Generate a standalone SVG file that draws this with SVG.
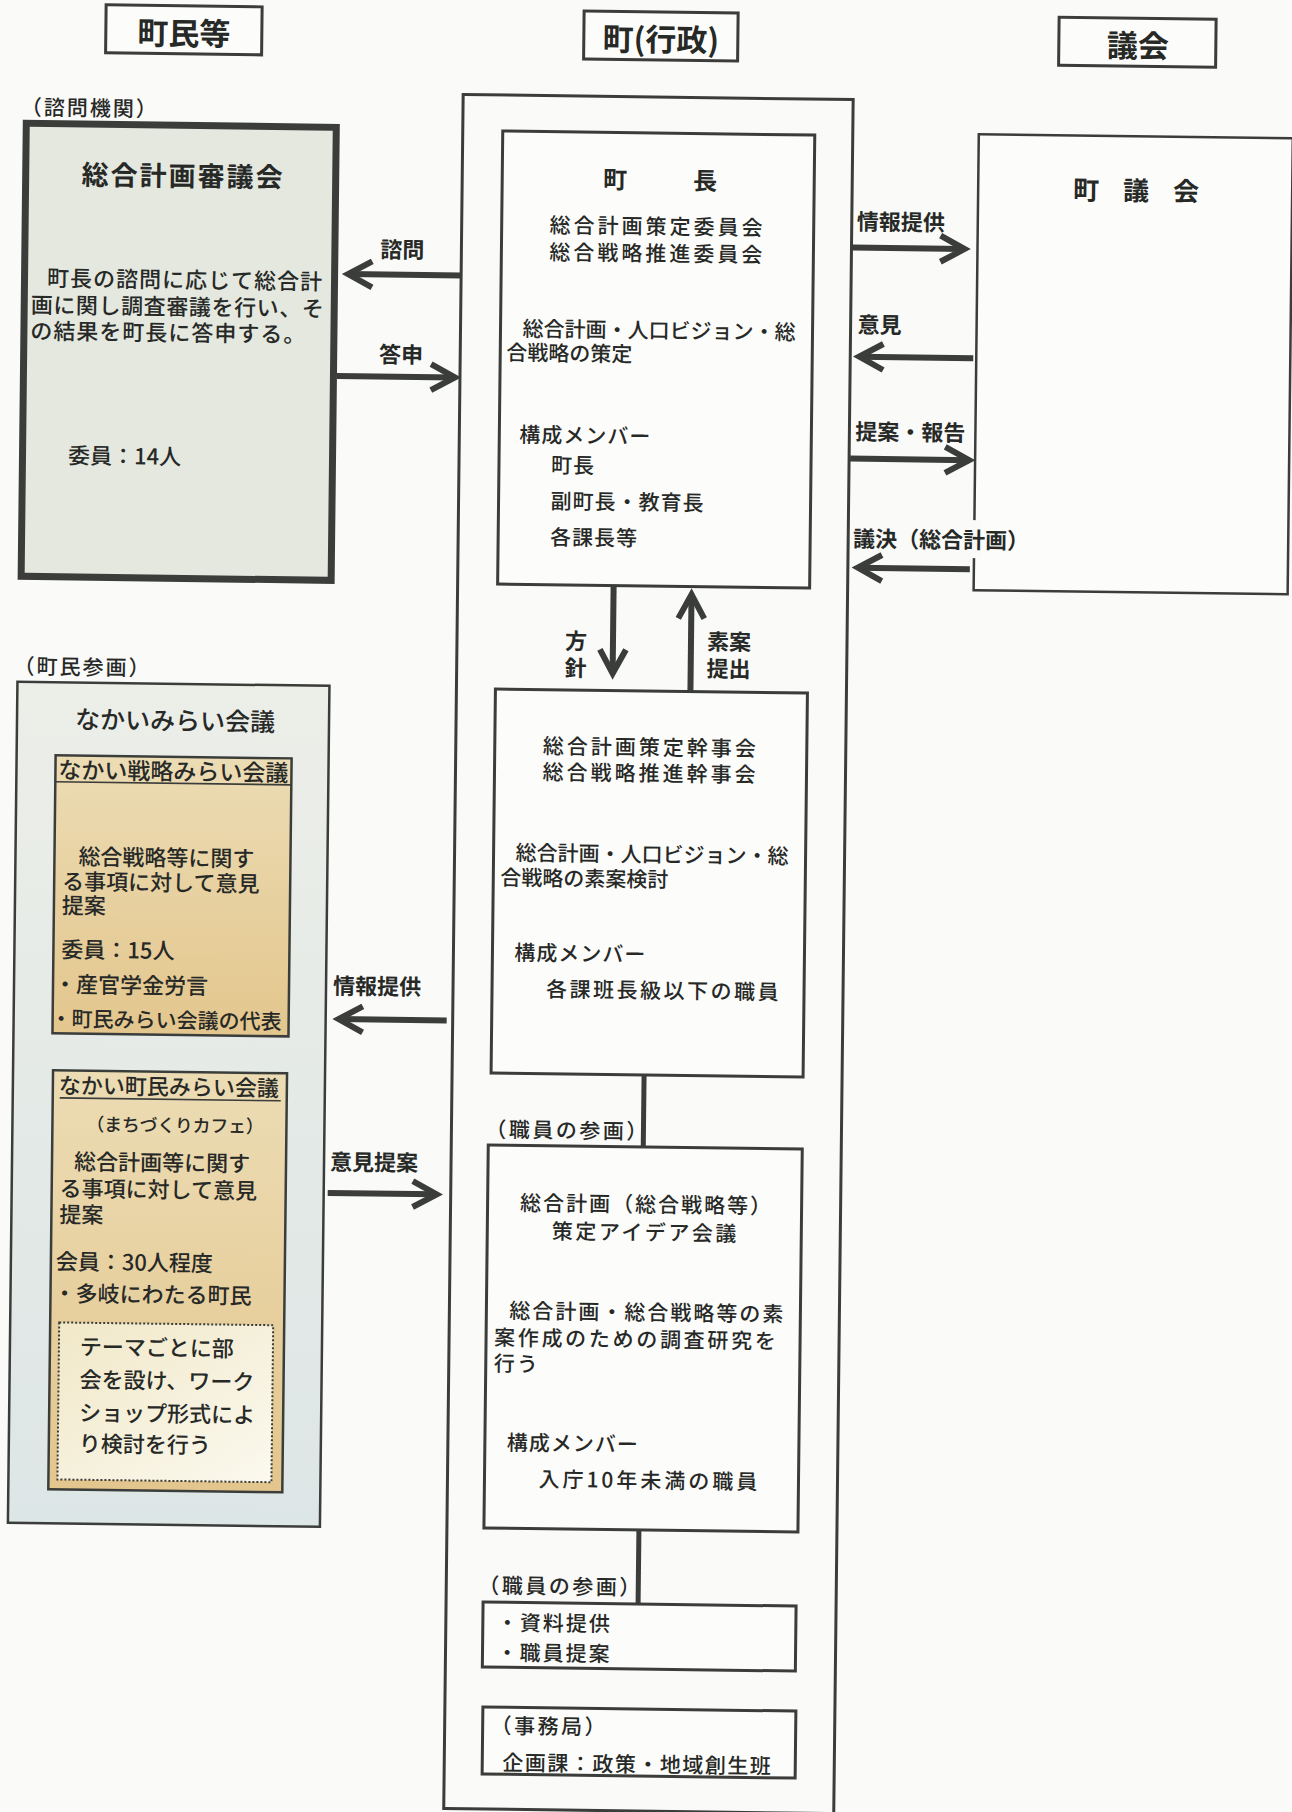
<svg xmlns="http://www.w3.org/2000/svg" width="1292" height="1812" viewBox="0 0 1292 1812">
<defs>
<style>
.t{font-family:"Noto Sans CJK JP","Noto Sans CJK SC","Noto Sans",sans-serif;fill:#272927;font-weight:500}
.b{font-weight:bold}
.box{fill:#fcfcfa;stroke:#3b3d3a;stroke-width:3}
.arr{fill:none;stroke:#3b3d3a;stroke-width:6;marker-end:url(#ah)}
.con{fill:none;stroke:#3b3d3a;stroke-width:5}
.ul{stroke:#3b3d3a;stroke-width:1.6}
.lbl{font-size:22px;font-weight:bold}
.f21{font-size:21px}
.f22{font-size:22px}
</style>
<marker id="ah" viewBox="-30 -18 40 36" refX="0" refY="0" markerWidth="40" markerHeight="36" markerUnits="userSpaceOnUse" orient="auto">
<path d="M-24,-13 L0,0 L-24,13" fill="none" stroke="#3b3d3a" stroke-width="6"/>
</marker>
<linearGradient id="gOuter" x1="0" y1="0" x2="0" y2="1"><stop offset="0" stop-color="#eceee8"/><stop offset="1" stop-color="#dde6e6"/></linearGradient>
<linearGradient id="gTan" x1="0" y1="0" x2="0" y2="1"><stop offset="0" stop-color="#ecdcb4"/><stop offset="1" stop-color="#e3c68d"/></linearGradient>
<linearGradient id="gCream" x1="0" y1="0" x2="1" y2="1"><stop offset="0" stop-color="#f1e8c8"/><stop offset="1" stop-color="#fbf9ef"/></linearGradient>
</defs>
<rect x="0" y="0" width="1292" height="1812" fill="#fafaf8"/>
<g transform="matrix(1 0.013 -0.01134 1 10.27 -8.4)">

<g id="hdr-chomin">
<rect x="96" y="12" width="156" height="48" fill="#fcfcfa" stroke="#3b3d3a" stroke-width="3"/>
<text class="t b" x="174" y="51" font-size="31" text-anchor="middle">町民等</text>
</g>
<g id="hdr-gyosei">
<rect x="574" y="12" width="154" height="48" fill="#fcfcfa" stroke="#3b3d3a" stroke-width="3"/>
<text class="t b" x="651" y="51" font-size="31" text-anchor="middle">町(行政)</text>
</g>
<g id="hdr-gikai">
<rect x="1049" y="12" width="157" height="48" fill="#fcfcfa" stroke="#3b3d3a" stroke-width="3"/>
<text class="t b" x="1128" y="51" font-size="31" text-anchor="middle">議会</text>
</g>

<g id="gyosei-frame">
<rect x="454" y="97" width="390" height="1714" fill="none" stroke="#3b3d3a" stroke-width="3"/>
</g>

<g id="shingikai">
<text class="t" x="12" y="123" font-size="21" letter-spacing="2">（諮問機関）</text>
<rect x="17.5" y="131.5" width="310" height="453" fill="#e4e8df" stroke="#3b3d3a" stroke-width="7"/>
<text class="t b" x="175" y="192" font-size="27" letter-spacing="2" text-anchor="middle">総合計画審議会</text>
<text class="t f22" x="40" y="294" letter-spacing="1">町長の諮問に応じて総合計</text>
<text class="t f22" x="24" y="321" letter-spacing="0.6">画に関し調査審議を行い、そ</text>
<text class="t f22" x="24" y="347" letter-spacing="1">の結果を町長に答申する。</text>
<text class="t f22" x="63" y="471">委員：14人</text>
</g>

<g id="chocho">
<rect class="box" x="494" y="133" width="312" height="453"/>
<text class="t b" x="595" y="189" font-size="24" letter-spacing="66">町長</text>
<text class="t f21" x="650" y="234" letter-spacing="3" text-anchor="middle">総合計画策定委員会</text>
<text class="t f21" x="650" y="261" letter-spacing="3" text-anchor="middle">総合戦略推進委員会</text>
<text class="t f21" x="516" y="338">総合計画・人口ビジョン・総</text>
<text class="t f21" x="500" y="362">合戦略の策定</text>
<text class="t f21" x="514" y="444" letter-spacing="1">構成メンバー</text>
<text class="t f21" x="546" y="474" letter-spacing="1">町長</text>
<text class="t f21" x="546" y="510" letter-spacing="1">副町長・教育長</text>
<text class="t f21" x="546" y="546" letter-spacing="1">各課長等</text>
</g>

<g id="chogikai">
<rect x="970" y="130" width="314" height="456" fill="#fcfcfa" stroke="#3b3d3a" stroke-width="2.5"/>
<text class="t b" x="1065" y="194" font-size="26" letter-spacing="24">町議会</text>
</g>

<g id="kanjikai">
<rect class="box" x="493" y="691" width="312" height="384"/>
<text class="t f21" x="649" y="755" letter-spacing="3" text-anchor="middle">総合計画策定幹事会</text>
<text class="t f21" x="649" y="781" letter-spacing="3" text-anchor="middle">総合戦略推進幹事会</text>
<text class="t f21" x="515" y="862">総合計画・人口ビジョン・総</text>
<text class="t f21" x="500" y="887">合戦略の素案検討</text>
<text class="t f21" x="515" y="962" letter-spacing="1">構成メンバー</text>
<text class="t f21" x="547" y="998" letter-spacing="2.5">各課班長級以下の職員</text>
</g>

<g id="idea">
<text class="t" x="488" y="1139" font-size="21" letter-spacing="2.5">（職員の参画）</text>
<rect class="box" x="491" y="1147" width="314" height="383"/>
<text class="t f21" x="650" y="1212" letter-spacing="2" text-anchor="middle">総合計画（総合戦略等）</text>
<text class="t f21" x="649" y="1240" letter-spacing="2.5" text-anchor="middle">策定アイデア会議</text>
<text class="t f21" x="514" y="1320" letter-spacing="2">総合計画・総合戦略等の素</text>
<text class="t f21" x="499" y="1347" letter-spacing="2.7">案作成のための調査研究を</text>
<text class="t f21" x="499" y="1373" letter-spacing="2">行う</text>
<text class="t f21" x="513" y="1452" letter-spacing="1">構成メンバー</text>
<text class="t f21" x="545" y="1488" letter-spacing="3">入庁10年未満の職員</text>
</g>

<g id="shiryo">
<text class="t" x="486" y="1595" font-size="21" letter-spacing="2.5">（職員の参画）</text>
<rect class="box" x="491" y="1604" width="313" height="65"/>
<text class="t f21" x="505" y="1632" letter-spacing="2">・資料提供</text>
<text class="t f21" x="505" y="1662" letter-spacing="2">・職員提案</text>
</g>

<g id="jimukyoku">
<rect class="box" x="492" y="1709" width="313" height="67"/>
<text class="t f21" x="500" y="1735" letter-spacing="2.5">（事務局）</text>
<text class="t f21" x="512" y="1772" letter-spacing="1.5">企画課：政策・地域創生班</text>
</g>

<g id="mirai">
<text class="t" x="11" y="682" font-size="21" letter-spacing="2">（町民参画）</text>
<rect x="15" y="690" width="312" height="841" fill="url(#gOuter)" stroke="#3b3d3a" stroke-width="2.5"/>
<text class="t" x="173" y="736" font-size="25" text-anchor="middle">なかいみらい会議</text>
</g>

<g id="senryaku">
<rect x="54" y="763" width="236" height="278" fill="url(#gTan)" stroke="#3b3d3a" stroke-width="2.5"/>
<text class="t" x="57" y="786" font-size="23">なかい戦略みらい会議</text>
<line class="ul" x1="54" y1="789.5" x2="290" y2="789.5"/>
<text class="t f22" x="78" y="872">総合戦略等に関す</text>
<text class="t f22" x="62" y="897">る事項に対して意見</text>
<text class="t f22" x="62" y="921">提案</text>
<text class="t f22" x="62" y="965">委員：15人</text>
<text class="t f22" x="55" y="1000">・産官学金労言</text>
<text class="t f21" x="52" y="1034">・町民みらい会議の代表</text>
</g>

<g id="chomin-mirai">
<rect x="55" y="1078" width="234" height="419" fill="url(#gTan)" stroke="#3b3d3a" stroke-width="2.5"/>
<text class="t f22" x="61" y="1101">なかい町民みらい会議</text>
<line class="ul" x1="62" y1="1105.5" x2="283" y2="1105.5"/>
<text class="t" x="89" y="1138" font-size="18" letter-spacing="-0.3">（まちづくりカフェ）</text>
<text class="t f22" x="77" y="1177">総合計画等に関す</text>
<text class="t f22" x="63" y="1204">る事項に対して意見</text>
<text class="t f22" x="63" y="1230">提案</text>
<text class="t f22" x="60" y="1277">会員：30人程度</text>
<text class="t f22" x="58" y="1309">・多岐にわたる町民</text>
</g>

<g id="bukai">
<rect x="64" y="1330" width="214" height="157" fill="url(#gCream)" stroke="#3b3d3a" stroke-width="2" stroke-dasharray="2 2"/>
<text class="t f22" x="85" y="1362">テーマごとに部</text>
<text class="t f22" x="85" y="1395">会を設け、ワーク</text>
<text class="t f22" x="85" y="1428">ショップ形式によ</text>
<text class="t f22" x="85" y="1459">り検討を行う</text>
</g>

<g id="connectors">
<path class="arr" d="M454,278 H341"/>
<path class="arr" d="M331,380 H449"/>
<path class="arr" d="M845,245 H957"/>
<path class="arr" d="M967,354 H853"/>
<path class="arr" d="M845,456 H964"/>
<path class="arr" d="M966,565 H854"/>
<path class="arr" d="M610,586 V674"/>
<path class="arr" d="M688,691 V594"/>
<path class="arr" d="M448,1023 H340"/>
<path class="arr" d="M331,1197 H440"/>
<path class="con" d="M646,1075 V1147"/>
<path class="con" d="M646,1530 V1604"/>
<rect x="963" y="516" width="14" height="38" fill="#fafaf8"/>
<text class="t lbl" x="373" y="261">諮問</text>
<text class="t lbl" x="373" y="366">答申</text>
<text class="t lbl" x="849" y="227" font-size="23">情報提供</text>
<text class="t lbl" x="851" y="330">意見</text>
<text class="t lbl" x="850" y="437">提案・報告</text>
<text class="t lbl" x="849" y="544">議決（総合計画）</text>
<text class="t lbl" x="562" y="650">方</text>
<text class="t lbl" x="562" y="677">針</text>
<text class="t lbl" x="704" y="649">素案</text>
<text class="t lbl" x="704" y="676">提出</text>
<text class="t lbl" x="334" y="998" font-size="23">情報提供</text>
<text class="t lbl" x="333" y="1174" font-size="23">意見提案</text>
</g>

</g>
</svg>
